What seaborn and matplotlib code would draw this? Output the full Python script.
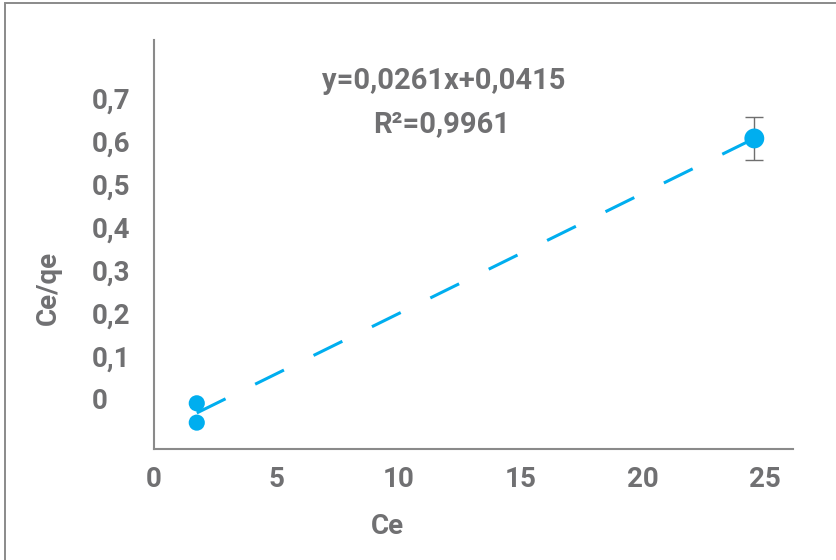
import numpy as np
import pandas as pd
import matplotlib
matplotlib.use("Agg")
import matplotlib.pyplot as plt
from matplotlib.patches import Rectangle
import seaborn as sns

# values (axis units as labelled)
ce = [1.75, 1.75, 24.56]
ce_qe = [-0.010, -0.055, 0.606]
ce_qe_err = [0.0, 0.0, 0.05]
point_size = ["small", "small", "big"]

x_ticks = [0, 5, 10, 15, 20, 25]
y_ticks = [0, 0.1, 0.2, 0.3, 0.4, 0.5, 0.6, 0.7]
y_tick_labels = ["0", "0,1", "0,2", "0,3", "0,4", "0,5", "0,6", "0,7"]
equation = "y=0,0261x+0,0415"
r_squared = "R²=0,9961"

df = pd.DataFrame({"Ce": ce, "Ce/qe": ce_qe, "err": ce_qe_err, "size": point_size})

sns.set_style("white")
plt.rcParams["font.family"] = ["Roboto", "DejaVu Sans"]
plt.rcParams["font.weight"] = "bold"

text_gray = "#707072"
axis_gray = "#8a8a8a"
blue = "#00AEEF"

fig = plt.figure(figsize=(8.36, 5.6), dpi=100)
ax = fig.add_axes([0.1842, 0.1977, 0.7640, 0.7309])

# outer frame (right/bottom edges run off the image)
fig.patches.append(Rectangle((0.0054, -0.1), 1.2, 1.0946, fill=False,
                             edgecolor=axis_gray, lw=1.4,
                             transform=fig.transFigure))

# dashed trend line
sns.regplot(data=df, x="Ce", y="Ce/qe", ax=ax, scatter=False, ci=None,
            truncate=True, color=blue,
            line_kws={"lw": 2.2, "linestyle": (0, (10.5, 10.8)), "zorder": 2})

# error bar on the last point
big = df[df["size"] == "big"]
ax.errorbar(big["Ce"], big["Ce/qe"], yerr=big["err"], fmt="none",
            ecolor="#6f6f6f", elinewidth=1.0, capsize=6.8, capthick=1.0, zorder=3)

sns.scatterplot(data=df, x="Ce", y="Ce/qe", ax=ax, size="size",
                sizes={"small": 135, "big": 205}, color=blue,
                edgecolor="none", legend=False, zorder=4)

ax.set_xlim(0, 26.13)
ax.set_ylim(-0.117, 0.835)
ax.set_xticks(x_ticks)
ax.set_xticklabels([str(t) for t in x_ticks])
ax.set_yticks(y_ticks)
ax.set_yticklabels(y_tick_labels)

ax.tick_params(axis="both", length=0, labelsize=20, labelcolor=text_gray)
ax.tick_params(axis="x", pad=12)
ax.tick_params(axis="y", pad=44.6)
for lbl in ax.get_yticklabels():
    lbl.set_ha("left")

for side in ["top", "right"]:
    ax.spines[side].set_visible(False)
for side in ["left", "bottom"]:
    ax.spines[side].set_color(axis_gray)
    ax.spines[side].set_linewidth(1.5)

ax.set_xlabel("Ce", fontsize=20, color=text_gray, fontweight="bold")
ax.xaxis.set_label_coords(0.366, -0.189)
ax.xaxis.label.set_va("center")
ax.set_ylabel("Ce/qe", fontsize=20, color=text_gray, fontweight="bold")
ax.yaxis.set_label_coords(-0.166, 0.394)
ax.yaxis.label.set_va("center")

ax.text(0.453, 0.9, equation, transform=ax.transAxes, ha="center", va="center",
        fontsize=21, color=text_gray, fontweight="bold")
ax.text(0.451, 0.795, r_squared, transform=ax.transAxes, ha="center", va="center",
        fontsize=21, color=text_gray, fontweight="bold")

fig.savefig("out.png", dpi=100)
